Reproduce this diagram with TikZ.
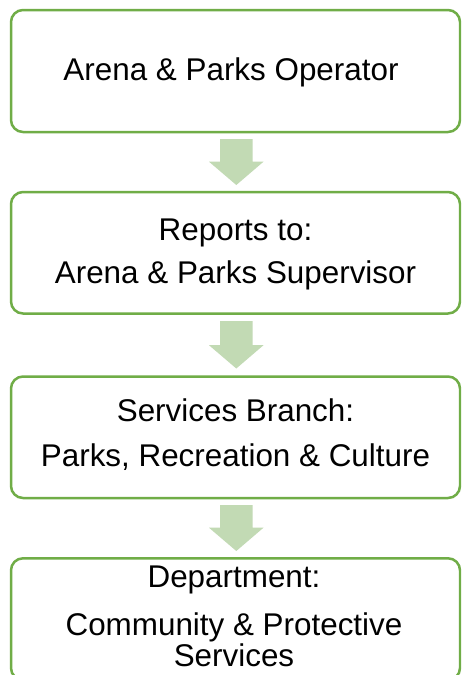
\documentclass[tikz,border=0pt]{standalone}
\usepackage{fontspec}
\setmainfont{Liberation Sans}
\definecolor{boxgreen}{RGB}{112,173,71}
\definecolor{arrowgreen}{RGB}{194,218,180}
\tikzset{
  stagebox/.style={draw=boxgreen, line width=2.5pt, rounded corners=12pt, fill=white},
  stagetext/.style={anchor=base, align=center, inner sep=0pt, text=black},
  downarrow/.style={fill=arrowgreen, draw=none},
}
\begin{document}
\begin{tikzpicture}[x=1pt,y=-1pt]
\useasboundingbox (0,0) rectangle (461,675);
\clip (0,0) rectangle (461,675);
\fill[white] (0,0) rectangle (461,675);
% boxes
\draw[stagebox] (11,10) rectangle (460,132);
\draw[stagebox] (11,192) rectangle (460,313.5);
\draw[stagebox] (11,376.5) rectangle (460,498);
\draw[stagebox] (11,558.3) rectangle (460,680);
% texts (base anchor = baseline of the last line)
\node[stagetext, font=\fontsize{31.4}{43}\selectfont] (t1) at (231,80) {Arena \& Parks Operator};
\node[stagetext, font=\fontsize{31.4}{43}\selectfont] (t2) at (235.5,283) {Reports to:\\Arena \& Parks Supervisor};
\node[stagetext, font=\fontsize{31.4}{45}\selectfont] (t3) at (235.5,466.7) {Services Branch:\\Parks, Recreation \& Culture};
\node[stagetext, font=\fontsize{31.4}{43}\selectfont] (t4a) at (234,587.5) {Department:};
\node[stagetext, font=\fontsize{31.4}{31}\selectfont] (t4b) at (234,666) {Community \& Protective\\Services};
% arrows
\foreach \top/\tip [count=\i] in {139/185, 321/368.5, 505/551} {
  \pgfmathsetmacro{\headtop}{\tip-23.3}
  \fill[downarrow] (220,\top) -- (252.7,\top) -- (252.7,\headtop) -- (263.5,\headtop)
     -- (236.3,\tip) -- (209,\headtop) -- (220,\headtop) -- cycle;
}
\end{tikzpicture}
\end{document}
